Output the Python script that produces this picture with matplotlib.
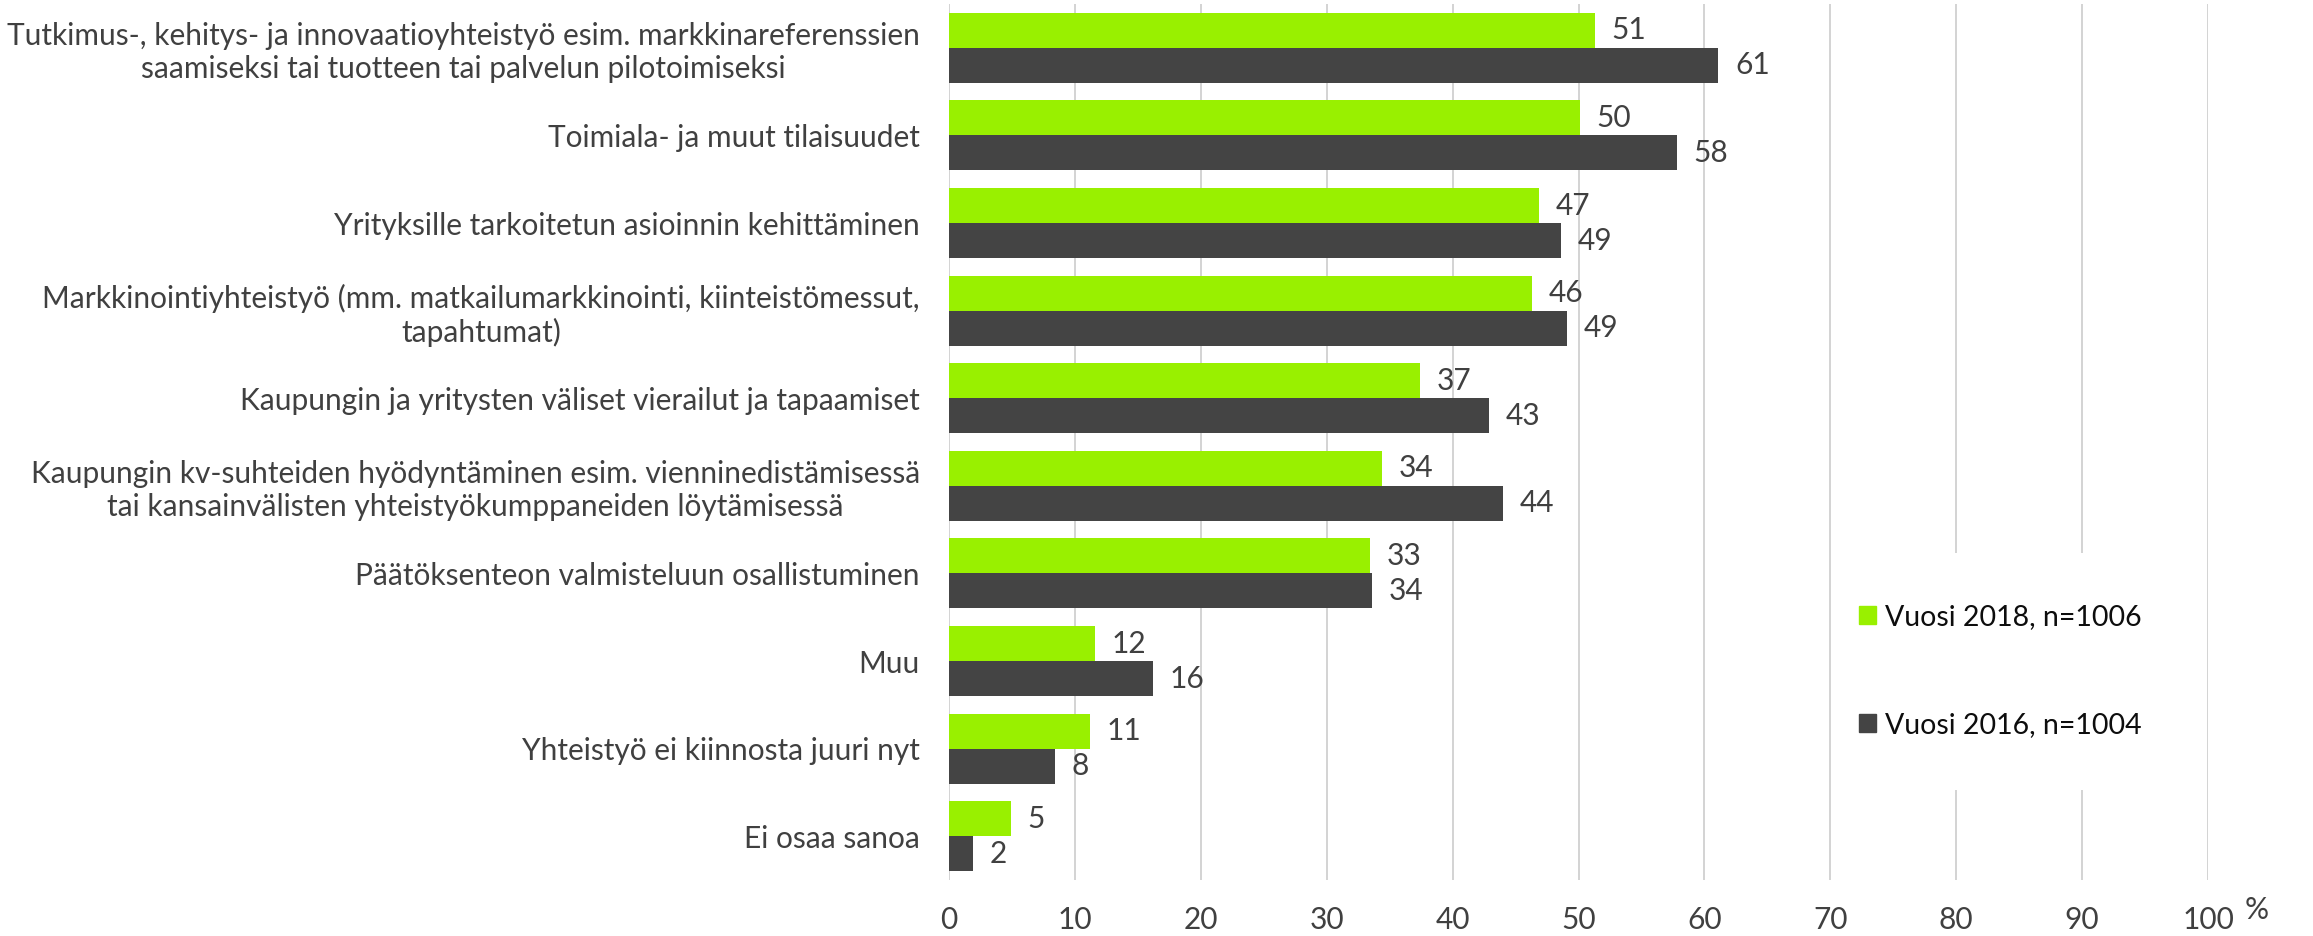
import numpy as np
import matplotlib
matplotlib.use("Agg")
import matplotlib.pyplot as plt
from matplotlib.patches import Patch, Rectangle

plt.rcParams['font.family'] = ['Lato', 'DejaVu Sans']

# ---- data ----
categories = [
    "Tutkimus-, kehitys- ja innovaatioyhteistyö esim. markkinareferenssien\nsaamiseksi tai tuotteen tai palvelun pilotoimiseksi",
    "Toimiala- ja muut tilaisuudet",
    "Yrityksille tarkoitetun asioinnin kehittäminen",
    "Markkinointiyhteistyö (mm. matkailumarkkinointi, kiinteistömessut,\ntapahtumat)",
    "Kaupungin ja yritysten väliset vierailut ja tapaamiset",
    "Kaupungin kv-suhteiden hyödyntäminen esim. vienninedistämisessä\ntai kansainvälisten yhteistyökumppaneiden löytämisessä",
    "Päätöksenteon valmisteluun osallistuminen",
    "Muu",
    "Yhteistyö ei kiinnosta juuri nyt",
    "Ei osaa sanoa",
]
vuosi_2018 = [51.3, 50.1, 46.9, 46.3, 37.4, 34.4, 33.4, 11.6, 11.2, 4.9]
vuosi_2016 = [61.1, 57.8, 48.6, 49.1, 42.9, 44.0, 33.6, 16.2, 8.4, 1.9]
series_names = ["Vuosi 2018, n=1006", "Vuosi 2016, n=1004"]
xticks = list(range(0, 101, 10))

GREEN = "#99f000"
DARK = "#444444"
TXT = "#404040"
FS = 21.5

fig = plt.figure(figsize=(23.13, 9.36), dpi=100)
ax = fig.add_axes([0.4103, 0.0598, 0.5443, 0.9359])

y = np.arange(len(categories))
h = 0.4
b1 = ax.barh(y - h / 2, vuosi_2018, height=h, color=GREEN, zorder=2)
b2 = ax.barh(y + h / 2, vuosi_2016, height=h, color=DARK, zorder=2)
for bars in (b1, b2):
    ax.bar_label(bars, fmt="%.0f", padding=12, fontsize=FS, color=TXT)

ax.set_ylim(len(categories) - 0.5, -0.5)
ax.set_xlim(0, 100)
ax.set_xticks(xticks)
ax.set_yticks(y)
ax.set_yticklabels(categories, fontsize=FS, color=TXT)
for t in ax.get_yticklabels():
    t.set_multialignment("center")
ax.tick_params(axis="y", length=0, pad=21)
ax.tick_params(axis="x", length=0, pad=19, labelsize=FS, labelcolor=TXT)
for s in ax.spines.values():
    s.set_visible(False)
ax.set_axisbelow(True)
ax.grid(axis="x", color="#d0d0d0", linewidth=1.3)

ax.text(1.039, -0.034, "%", transform=ax.transAxes, ha="center", va="center",
        fontsize=FS, color=TXT)

# white area behind the legend hides the 80/90 gridlines
ax.add_patch(Rectangle((0.708, 0.103), 0.286, 0.27, transform=ax.transAxes,
                       facecolor="white", edgecolor="none", zorder=1))
handles = [Patch(color=GREEN), Patch(color=DARK)]
ax.legend(handles, series_names, loc="center left", bbox_to_anchor=(0.7228, 0.2386),
          frameon=False, fontsize=20.5, borderpad=0, borderaxespad=0,
          handlelength=0.6, handleheight=0.6, handletextpad=0.3,
          labelspacing=2.9, labelcolor="#0d0d0d")

fig.savefig("out.png", dpi=100)
